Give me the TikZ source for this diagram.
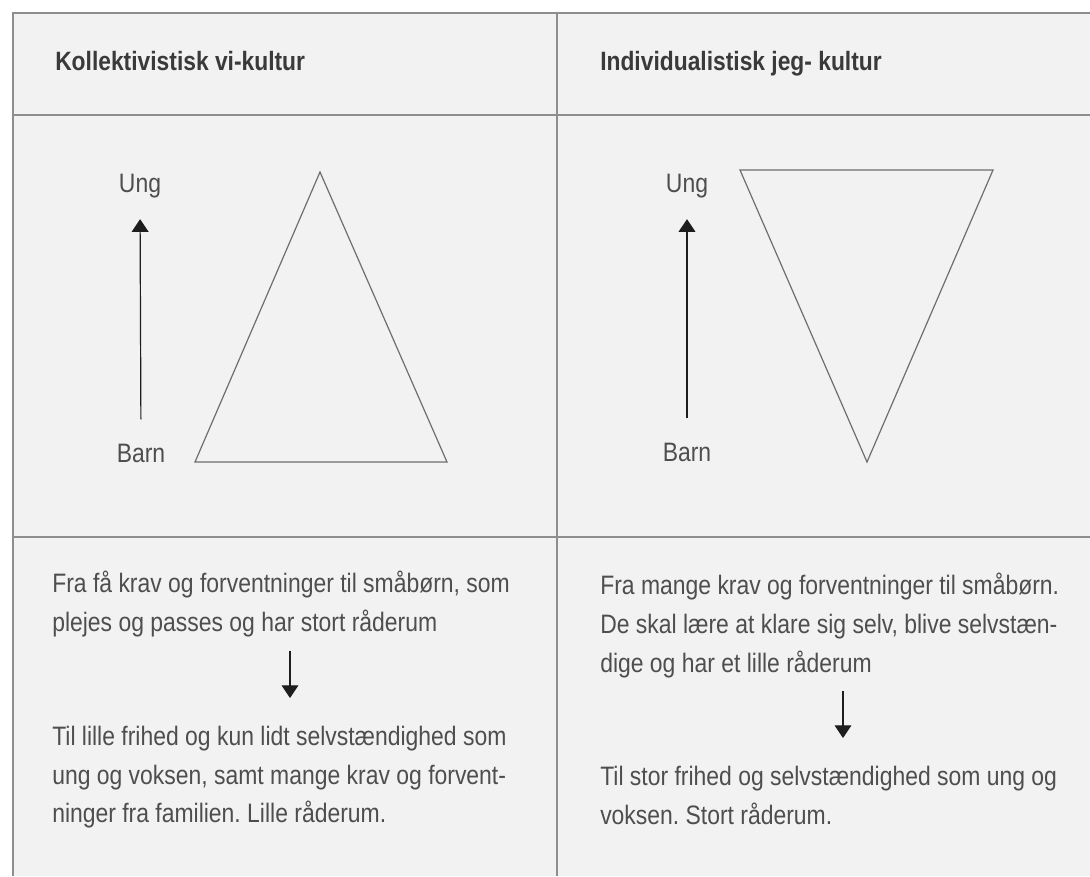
\documentclass[tikz,border=0pt]{standalone}
\usepackage{fontspec}
\setmainfont[FakeStretch=0.86]{Liberation Sans}
\usetikzlibrary{arrows.meta}

\definecolor{cellgray}{HTML}{F2F2F2}
\definecolor{linegray}{HTML}{8E8E8E}
\definecolor{trigray}{HTML}{6E6E6E}
\definecolor{txtgray}{HTML}{4E4E4E}
\definecolor{headgray}{HTML}{3A3A3A}
\definecolor{arrgray}{HTML}{1E1E1E}
\frenchspacing

\begin{document}
\begin{tikzpicture}[x=0.75pt,y=-0.75pt,
  rule/.style={draw=linegray,line width=1.1pt},
  head/.style={anchor=base west,inner sep=0,text=headgray,font=\fontsize{19.9}{24}\selectfont\bfseries},
  lbl/.style={anchor=base,inner sep=0,text=txtgray,font=\fontsize{20}{23}\selectfont},
  body/.style={anchor=north west,inner sep=0,align=left,text=txtgray,font=\fontsize{20}{29}\selectfont},
  tri/.style={draw=trigray,line width=0.9pt,line join=miter},
  arr/.style={draw=arrgray,line width=0.9pt,-{Triangle[width=12.5pt,length=9.5pt]}}]
\useasboundingbox (0,0) rectangle (1090,876);
% table
\fill[cellgray] (13,13) rectangle (1090,876);
\draw[rule] (1090,13) -- (13,13) -- (13,876);
\draw[rule] (13,115) -- (1090,115);
\draw[rule] (13,537) -- (1090,537);
\draw[rule] (557,13) -- (557,876);

% headings
\node[head] (headL) at (55,70) {Kollektivistisk vi-kultur};
\node[head] (headR) at (600,70) {Individualistisk jeg- kultur};

% left figure
\node[lbl] (ungL) at (140,192) {Ung};
\node[lbl] (barnL) at (141,462) {Barn};
\draw[arr,shorten <=18pt,shorten >=16pt] (barnL.north) -- (ungL.south);
\draw[tri] (320,172) -- (447,462) -- (195,462) -- cycle;

% right figure
\node[lbl] (ungR) at (687,192) {Ung};
\node[lbl] (barnR) at (687,461) {Barn};
\draw[arr,shorten <=18pt,shorten >=16pt] (barnR.north) -- (ungR.south);
\draw[tri] (740,170) -- (993,170) -- (867,462) -- cycle;

% left text
\node[body] (fromL) at (52,571) {Fra få krav og forventninger til småbørn, som\\
plejes og passes og har stort råderum};
\node[body] (toL) at (52,726) {Til lille frihed og kun lidt selvstændighed som\\
ung og voksen, samt mange krav og forvent-\\
ninger fra familien. Lille råderum.};
\coordinate (xL) at (290,0);
\draw[arr,shorten <=10pt,shorten >=21pt] (fromL.south -| xL) -- (toL.north -| xL);

% right text
\node[body] (fromR) at (600,573) {Fra mange krav og forventninger til småbørn.\\
De skal lære at klare sig selv, blive selvstæn-\\
dige og har et lille råderum};
\node[body] (toR) at (600,766) {Til stor frihed og selvstændighed som ung og\\
voksen. Stort råderum.};
\coordinate (xR) at (843,0);
\draw[arr,shorten <=10pt,shorten >=21pt] (fromR.south -| xR) -- (toR.north -| xR);
\end{tikzpicture}
\end{document}
